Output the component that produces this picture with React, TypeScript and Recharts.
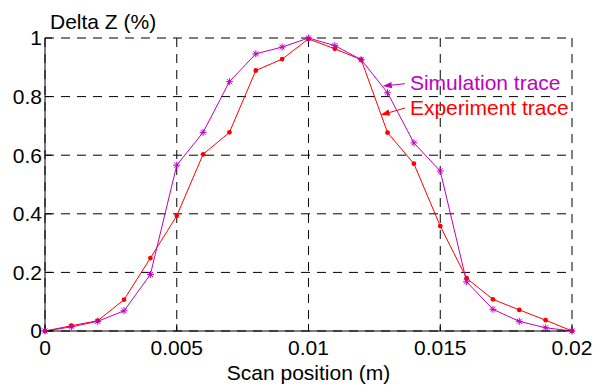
import React from 'react';
import { LineChart, Line, XAxis, YAxis, CartesianGrid, ReferenceLine } from 'recharts';

const positions = [0, 0.001, 0.002, 0.003, 0.004, 0.005, 0.006, 0.007, 0.008, 0.009, 0.01, 0.011, 0.012, 0.013, 0.014, 0.015, 0.016, 0.017, 0.018, 0.019, 0.02];
const experiment = [0, 0.018, 0.035, 0.107, 0.249, 0.393, 0.603, 0.678, 0.889, 0.928, 0.997, 0.963, 0.926, 0.677, 0.571, 0.358, 0.18, 0.108, 0.072, 0.037, 0];
const simulation = [0, 0.014, 0.033, 0.069, 0.193, 0.566, 0.678, 0.851, 0.946, 0.969, 1.0, 0.974, 0.926, 0.813, 0.642, 0.546, 0.168, 0.074, 0.033, 0.011, 0];
const xTicks = [0, 0.005, 0.01, 0.015, 0.02];
const yTicks = [0, 0.2, 0.4, 0.6, 0.8, 1];

const simArrow = [{ x: 0.01282, y: 0.836 }, { x: 0.01366, y: 0.844 }];
const expArrow = [{ x: 0.01274, y: 0.737 }, { x: 0.01366, y: 0.761 }];

const RED = '#ff0000';
const MAG = '#bf00bf';
const FONT = '"Liberation Sans", Arial, sans-serif';
const FS = 21;

const data = positions.map((p, i) => ({ pos: p, exp: experiment[i], sim: simulation[i] }));

const StarDot = (props: any) => {
  const { cx, cy, index } = props;
  if (cx == null || cy == null) return <g key={index} />;
  const r = 3.5;
  const d = r * 0.72;
  return (
    <g key={index} stroke={MAG} strokeWidth={1}>
      <line x1={cx - r} y1={cy} x2={cx + r} y2={cy} />
      <line x1={cx} y1={cy - r} x2={cx} y2={cy + r} />
      <line x1={cx - d} y1={cy - d} x2={cx + d} y2={cy + d} />
      <line x1={cx - d} y1={cy + d} x2={cx + d} y2={cy - d} />
    </g>
  );
};

const RedDot = (props: any) => {
  const { cx, cy, index } = props;
  if (cx == null || cy == null) return <g key={index} />;
  return <circle key={index} cx={cx} cy={cy} r={2.4} fill={RED} stroke="none" />;
};

const arrowShape = (color: string, label: string) => (p: any) => {
  const { x1, y1, x2, y2 } = p;
  if (x1 == null) return <g />;
  const dx = x1 - x2;
  const dy = y1 - y2;
  const len = Math.sqrt(dx * dx + dy * dy) || 1;
  const ux = dx / len;
  const uy = dy / len;
  const hl = 9;
  const hw = 3.2;
  const bx = x1 - ux * hl;
  const by = y1 - uy * hl;
  const nx = -uy;
  const ny = ux;
  return (
    <g>
      <line x1={x2} y1={y2} x2={bx} y2={by} stroke={color} strokeWidth={1} />
      <polygon
        points={`${x1},${y1} ${bx + nx * hw},${by + ny * hw} ${bx - nx * hw},${by - ny * hw}`}
        fill={color}
        stroke="none"
      />
      <text x={x2 + 5} y={y2 - 1} fill={color} fontSize={FS} fontFamily={FONT} dominantBaseline="central">
        {label}
      </text>
    </g>
  );
};

const NoTick = () => <g />;

export default function App() {
  return (
    <div style={{ position: 'absolute', left: 0, top: 0, width: 595, height: 385, background: '#fff' }}>
      <LineChart
        width={595}
        height={385}
        data={data}
        margin={{ top: 38, right: 23, left: 0, bottom: 24 }}
      >
        <CartesianGrid stroke="#000" strokeDasharray="9 7" strokeWidth={1} />
        <XAxis
          dataKey="pos"
          type="number"
          domain={[0, 0.02]}
          ticks={xTicks}
          height={30}
          tickSize={-7}
          tickMargin={16}
          axisLine={{ stroke: '#000', strokeWidth: 1 }}
          tickLine={{ stroke: '#000' }}
          tick={{ fill: '#000', fontSize: FS, fontFamily: FONT }}
          interval={0}
        />
        <XAxis
          xAxisId="top"
          orientation="top"
          dataKey="pos"
          type="number"
          domain={[0, 0.02]}
          ticks={xTicks}
          height={0}
          tickSize={-7}
          axisLine={{ stroke: '#000', strokeWidth: 1 }}
          tickLine={{ stroke: '#000' }}
          tick={NoTick}
          interval={0}
        />
        <YAxis
          type="number"
          domain={[0, 1]}
          ticks={yTicks}
          width={45}
          tickSize={-7}
          tickMargin={10}
          axisLine={{ stroke: '#000', strokeWidth: 1 }}
          tickLine={{ stroke: '#000' }}
          tick={{ fill: '#000', fontSize: FS, fontFamily: FONT }}
          interval={0}
        />
        <YAxis
          yAxisId="right"
          orientation="right"
          type="number"
          domain={[0, 1]}
          ticks={yTicks}
          width={0}
          tickSize={-7}
          axisLine={{ stroke: '#000', strokeWidth: 1 }}
          tickLine={{ stroke: '#000' }}
          tick={NoTick}
          interval={0}
        />
        <Line
          type="linear"
          dataKey="exp"
          stroke={RED}
          strokeWidth={1}
          dot={RedDot}
          activeDot={false}
          isAnimationActive={false}
        />
        <Line
          type="linear"
          dataKey="sim"
          stroke={MAG}
          strokeWidth={1}
          dot={StarDot}
          activeDot={false}
          isAnimationActive={false}
        />
        <ReferenceLine segment={simArrow} ifOverflow="visible" shape={arrowShape(MAG, 'Simulation trace')} />
        <ReferenceLine segment={expArrow} ifOverflow="visible" shape={arrowShape(RED, 'Experiment trace')} />
      </LineChart>
      <svg
        width={595}
        height={385}
        style={{ position: 'absolute', left: 0, top: 0, pointerEvents: 'none' }}
      >
        <text x={50} y={28.5} fontSize={FS} fontFamily={FONT} fill="#000">
          Delta Z (%)
        </text>
        <text x={308.5} y={380} fontSize={FS} fontFamily={FONT} fill="#000" textAnchor="middle">
          Scan position (m)
        </text>
      </svg>
    </div>
  );
}
